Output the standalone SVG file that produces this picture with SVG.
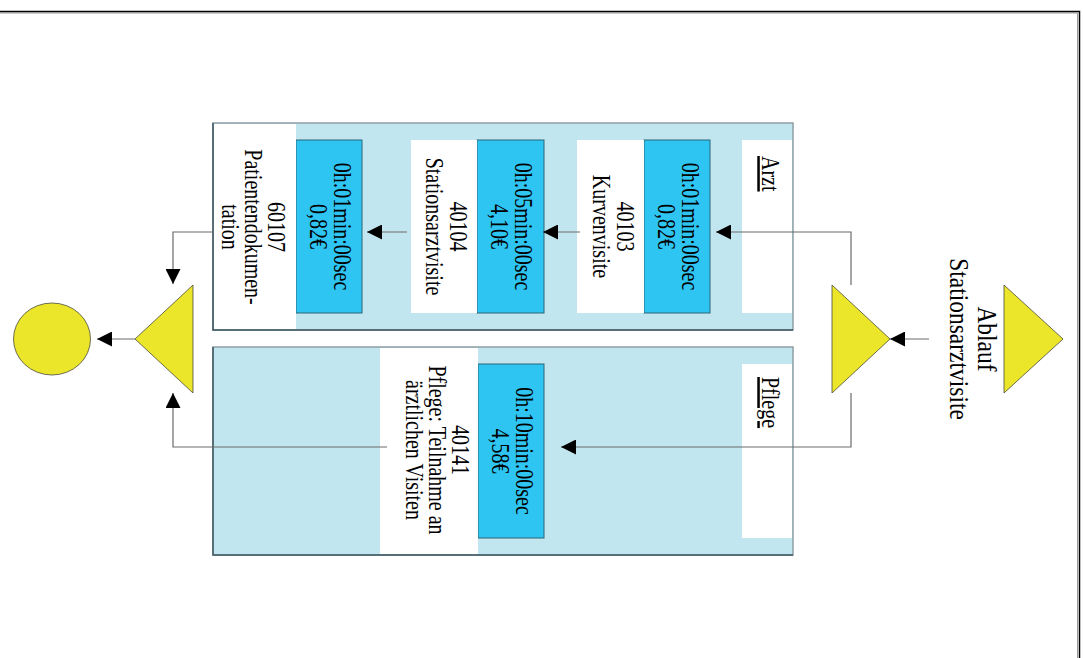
<svg xmlns="http://www.w3.org/2000/svg" width="1083" height="658" viewBox="0 0 1083 658">
  <defs>
    <marker id="arrow" markerUnits="userSpaceOnUse" markerWidth="15" markerHeight="15" refX="15" refY="7.5" orient="auto">
      <path d="M0,0 L15,7.5 L0,15 Z" fill="#000"/>
    </marker>
    <style>
      .lane { fill: #c2e6ef; stroke: #8e9ea4; stroke-width: 1.5; }
      .lane-edge { fill: none; stroke: #3f5863; stroke-width: 1.5; }
      .white { fill: #ffffff; stroke: none; }
      .task { fill: #2fc5f3; stroke: #2a6478; stroke-width: 1; }
      .event { fill: #ebe62a; stroke: #4a4a3a; stroke-width: 0.8; }
      .conn { fill: none; stroke: #6b6b6b; stroke-width: 1.2; marker-end: url(#arrow); }
      .t { font-family: "Liberation Serif", "Times New Roman", serif; font-size: 20px; fill: #000; text-anchor: middle; }
      .lbl { font-family: "Liberation Serif", "Times New Roman", serif; font-size: 20px; fill: #000; text-anchor: start; text-decoration: underline; }
      .title { font-family: "Liberation Serif", "Times New Roman", serif; font-size: 23.5px; fill: #000; text-anchor: middle; }
    </style>
  </defs>

  <rect x="0" y="0" width="1083" height="658" fill="#ffffff"/>

  <!-- page frame -->
  <path d="M0,13 H1077.5 V658" fill="none" stroke="#9a9a9a" stroke-width="1"/>
  <path d="M0,11.5 H1079.5 V658" fill="none" stroke="#000" stroke-width="1.5"/>

  <!-- swimlane: Arzt -->
  <g id="lane-arzt">
    <rect class="lane" x="213" y="123" width="580" height="207"/>
    <path class="lane-edge" d="M213,123 V330 H793"/>
    <rect class="white" x="742" y="140" width="50" height="173"/>
    <text class="lbl" transform="translate(762,156) rotate(90) scale(1,1.25)">Arzt</text>
  </g>

  <!-- swimlane: Pflege -->
  <g id="lane-pflege">
    <rect class="lane" x="213" y="347" width="580" height="208"/>
    <path class="lane-edge" d="M213,347 V555 H793"/>
    <rect class="white" x="742" y="364" width="50" height="174"/>
    <text class="lbl" transform="translate(762,377) rotate(90) scale(1,1.25)">Pflege</text>
  </g>

  <!-- start event -->
  <g id="start">
    <polygon class="event" points="1004,285 1004,393 1063,339"/>
    <text class="title" transform="translate(978,339) rotate(90) scale(1,1.2)"><tspan x="0" y="0">Ablauf</tspan><tspan x="0" dy="23.3">Stationsarztvisite</tspan></text>
  </g>

  <!-- split gateway -->
  <g id="split">
    <polygon class="event" points="832,285 832,393 890,339"/>
  </g>

  <!-- Arzt activities -->
  <g id="time-40103">
    <rect class="task" x="644" y="140" width="66" height="173"/>
    <text class="t" transform="translate(682,226.5) rotate(90) scale(1,1.25)"><tspan x="0" y="0">0h:01min:00sec</tspan><tspan x="0" dy="19.2">0,82€</tspan></text>
  </g>
  <g id="act-40103">
    <rect class="white" x="577" y="140" width="67" height="173"/>
    <text class="t" transform="translate(617,226.5) rotate(90) scale(1,1.25)"><tspan x="0" y="0">40103</tspan><tspan x="0" dy="19.2">Kurvenvisite</tspan></text>
  </g>
  <g id="time-40104">
    <rect class="task" x="477" y="140" width="67" height="173"/>
    <text class="t" transform="translate(515,226.5) rotate(90) scale(1,1.25)"><tspan x="0" y="0">0h:05min:00sec</tspan><tspan x="0" dy="19.2">4,10€</tspan></text>
  </g>
  <g id="act-40104">
    <rect class="white" x="411" y="140" width="66" height="173"/>
    <text class="t" transform="translate(450,226.5) rotate(90) scale(1,1.25)"><tspan x="0" y="0">40104</tspan><tspan x="0" dy="19.2">Stationsarztvisite</tspan></text>
  </g>
  <g id="time-60107">
    <rect class="task" x="296" y="140" width="66" height="173"/>
    <text class="t" transform="translate(334,226.5) rotate(90) scale(1,1.25)"><tspan x="0" y="0">0h:01min:00sec</tspan><tspan x="0" dy="19.2">0,82€</tspan></text>
  </g>
  <g id="act-60107">
    <rect class="white" x="214" y="124" width="82" height="205"/>
    <text class="t" transform="translate(268,227) rotate(90) scale(1,1.25)"><tspan x="0" y="0">60107</tspan><tspan x="0" dy="18.4">Patientendokumen-</tspan><tspan x="0" dy="18.4">tation</tspan></text>
  </g>

  <!-- Pflege activities -->
  <g id="time-40141">
    <rect class="task" x="478" y="364" width="66" height="174"/>
    <text class="t" transform="translate(516,451) rotate(90) scale(1,1.25)"><tspan x="0" y="0">0h:10min:00sec</tspan><tspan x="0" dy="19.2">4,58€</tspan></text>
  </g>
  <g id="act-40141">
    <rect class="white" x="380" y="348" width="98" height="206"/>
    <text class="t" transform="translate(452,450) rotate(90) scale(1,1.25)"><tspan x="0" y="0">40141</tspan><tspan x="0" dy="18.6">Pflege: Teilnahme an</tspan><tspan x="0" dy="18.6">ärztlichen Visiten</tspan></text>
  </g>

  <!-- join gateway -->
  <g id="join">
    <polygon class="event" points="193,285 193,393 135,339"/>
  </g>

  <!-- end event -->
  <g id="end">
    <ellipse class="event" cx="52" cy="339" rx="38.5" ry="36"/>
  </g>

  <!-- connectors -->
  <g id="connectors">
    <path class="conn" d="M929,339 H890"/>
    <path class="conn" d="M851,285 V232 H716"/>
    <path class="conn" d="M851,393 V447 H561"/>
    <path class="conn" d="M580,232 H543"/>
    <path class="conn" d="M407,232 H367"/>
    <path class="conn" d="M213,232 H173 V284"/>
    <path class="conn" d="M387,447 H173 V393"/>
    <path class="conn" d="M135,339 H97"/>
  </g>
</svg>
